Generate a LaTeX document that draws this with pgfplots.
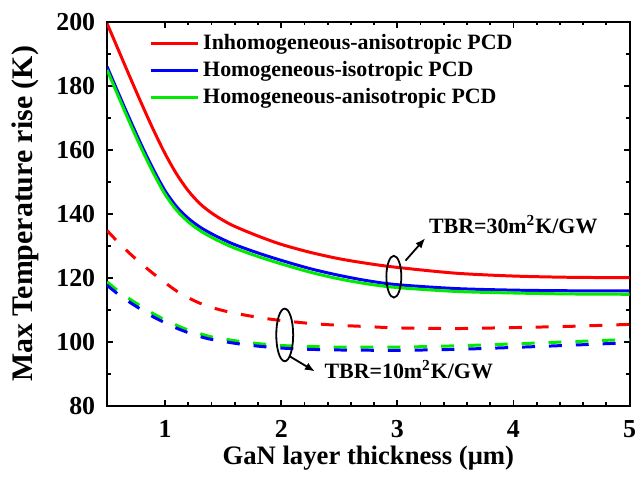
\documentclass[border=0pt]{standalone}
\usepackage{pgfplots}
\pgfplotsset{compat=1.18}
\usepackage{fontspec}
\setmainfont{Liberation Serif}
\usetikzlibrary{arrows.meta}
\definecolor{cred}{RGB}{255,0,0}
\definecolor{cblue}{RGB}{0,0,255}
\definecolor{cgreen}{RGB}{0,235,0}
\begin{document}
\begin{tikzpicture}
\begin{axis}[
  scale only axis,
  width=262.5pt, height=193pt,
  xmin=0.5, xmax=5, ymin=80, ymax=200,
  xtick={1,2,3,4,5}, ytick={80,100,...,200},
  minor x tick num=4, minor y tick num=1,
  tick align=inside, tick pos=both,
  major tick length=3pt, minor tick length=1.8pt,
  axis line style={line width=1pt},
  every tick/.style={black, line width=0.9pt},
  /pgf/number format/assume math mode=true,
  ticklabel style={font=\fontsize{13}{15}\selectfont\bfseries, inner sep=0pt},
  xticklabel style={yshift=-7.2pt},
  yticklabel style={xshift=-5.8pt},
  xlabel={GaN layer thickness (μm)},
  ylabel={Max Temperature rise (K)},
  xlabel style={font=\fontsize{13.4}{15}\selectfont\bfseries, at={(axis description cs:0.5,0)}, anchor=north, yshift=-16.4pt},
  ylabel style={font=\fontsize{15}{17}\selectfont\bfseries, at={(axis description cs:-0.1562,0.5)}, anchor=center, inner sep=6pt},
  legend style={draw=none, fill=none, at={(0.069,0.99)}, anchor=north west,
    font=\fontsize{11}{12.5}\selectfont\bfseries, row sep=0.5pt},
  legend cell align=left,
  legend image code/.code={\draw[#1] (0pt,0pt) -- (23.5pt,0pt);},
]
\addplot[cred, line width=1.5pt, smooth] coordinates {
(0.5,199.5)(0.6,191)(0.7,182.5)(0.8,174.2)(0.9,166.2)(1.0,158.8)(1.1,152.4)(1.2,147.2)(1.3,143.2)(1.4,140.3)(1.5,138.0)(1.6,136.1)(1.8,133.1)(2.0,130.5)(2.25,128.0)(2.5,126.0)(2.75,124.5)(3.0,123.3)(3.5,121.5)(4.0,120.6)(4.5,120.2)(5.0,120.1)};
\addlegendentry{Inhomogeneous-anisotropic PCD}
\addplot[cblue, line width=1.5pt, smooth] coordinates {
(0.5,186)(0.6,177.5)(0.7,169.2)(0.8,161.2)(0.9,153.8)(1.0,147.2)(1.1,142.2)(1.2,138.6)(1.3,135.9)(1.4,133.8)(1.5,132.0)(1.6,130.4)(1.8,127.8)(2.0,125.5)(2.25,122.9)(2.5,120.8)(2.75,119.1)(3.0,117.9)(3.5,116.7)(4.0,116.2)(4.5,116.0)(5.0,116.0)};
\addlegendentry{Homogeneous-isotropic PCD}
\addplot[cgreen, line width=1.5pt, smooth] coordinates {
(0.5,185)(0.6,176.5)(0.7,168.1)(0.8,160.1)(0.9,152.7)(1.0,146.1)(1.1,141.1)(1.2,137.5)(1.3,134.8)(1.4,132.7)(1.5,130.9)(1.6,129.3)(1.8,126.7)(2.0,124.4)(2.25,121.8)(2.5,119.7)(2.75,118.1)(3.0,117.0)(3.5,115.8)(4.0,115.3)(4.5,115.0)(5.0,114.9)};
\addlegendentry{Homogeneous-anisotropic PCD}
\addplot[cred, line width=1.5pt, smooth, dash pattern=on 6.5pt off 7pt] coordinates {
(0.5,134.8)(0.6,131)(0.7,127.5)(0.8,124.3)(0.9,121.3)(1.0,118.5)(1.1,115.9)(1.2,113.8)(1.3,112.1)(1.4,110.8)(1.5,109.8)(1.6,109.0)(1.8,107.7)(2.0,106.7)(2.25,105.8)(2.5,105.2)(2.75,104.8)(3.0,104.4)(3.5,104.2)(4.0,104.5)(4.5,104.9)(5.0,105.5)};
\addplot[cgreen, line width=1.5pt, smooth, dash pattern=on 6.5pt off 7pt] coordinates {
(0.5,118.8)(0.6,115.8)(0.7,113.3)(0.8,111.0)(0.9,108.8)(1.0,106.9)(1.1,105.2)(1.2,103.7)(1.3,102.6)(1.4,101.6)(1.6,100.4)(1.8,99.5)(2.0,98.9)(2.25,98.6)(2.5,98.4)(3.0,98.4)(3.5,98.8)(4.0,99.4)(4.5,100.1)(5.0,100.8)};
\addplot[cblue, line width=1.5pt, smooth, dash pattern=on 6.5pt off 7pt] coordinates {
(0.5,117.7)(0.6,114.8)(0.7,112.3)(0.8,110.0)(0.9,107.8)(1.0,106.0)(1.1,104.3)(1.2,102.9)(1.3,101.7)(1.4,100.8)(1.6,99.6)(1.8,98.7)(2.0,98.1)(2.25,97.7)(2.5,97.5)(3.0,97.4)(3.5,97.7)(4.0,98.3)(4.5,99.0)(5.0,99.8)};
% annotations
\draw[line width=0.9pt] (axis cs:2.97,120.4) ellipse [x radius=3.75pt, y radius=10.5pt];
\draw[line width=0.9pt, -{Latex[length=5pt,width=4pt]}] (axis cs:3.07,125.4) -- (axis cs:3.24,132.4);
\node[anchor=base west, font=\fontsize{11}{13}\selectfont\bfseries, inner sep=0pt] at (axis cs:3.27,133.8) {TBR=30m\textsuperscript{2}K/GW};
\draw[line width=0.9pt] (axis cs:2.03,102.2) ellipse [x radius=4.25pt, y radius=13.2pt];
\draw[line width=0.9pt, -{Latex[length=5pt,width=4pt]}] (axis cs:2.07,95.6) -- (axis cs:2.29,90.8);
\node[anchor=base west, font=\fontsize{11}{13}\selectfont\bfseries, inner sep=0pt] at (axis cs:2.37,88.7) {TBR=10m\textsuperscript{2}K/GW};
\end{axis}
\path ([yshift=11pt]current axis.north west) -- (current axis.north west);
\path ([yshift=-35.7pt]current axis.south west) -- (current axis.south west);
\end{tikzpicture}
\end{document}
